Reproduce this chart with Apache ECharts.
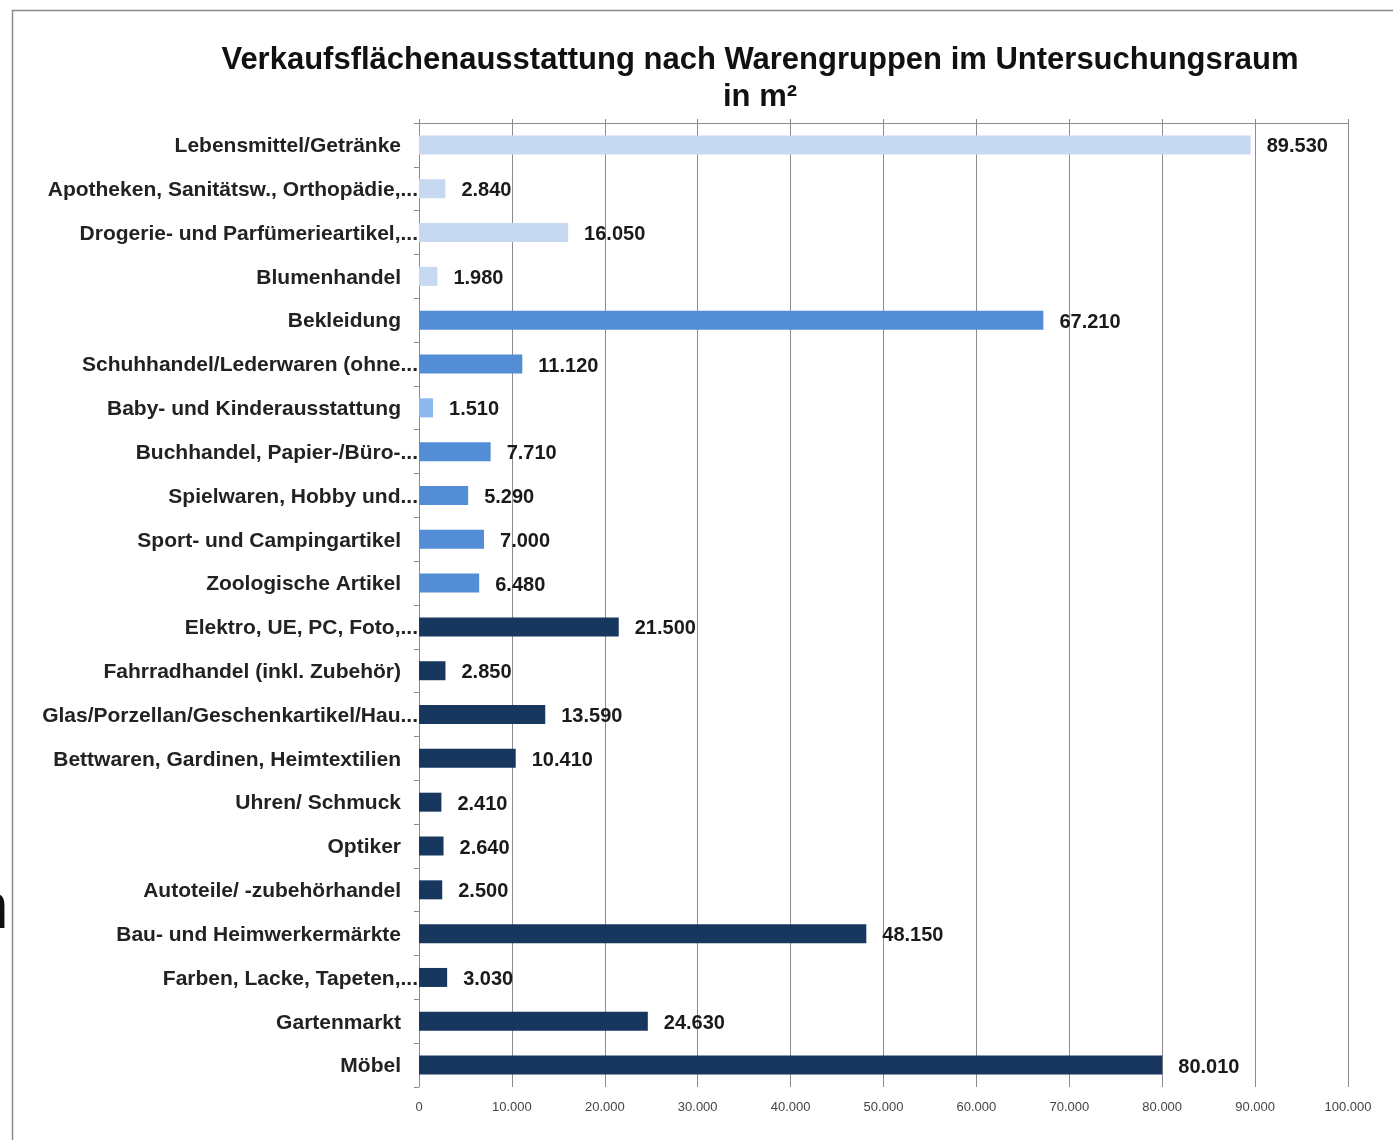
<!DOCTYPE html>
<html>
<head>
<meta charset="utf-8">
<script src="https://cdn.jsdelivr.net/npm/echarts@6/dist/echarts.min.js"></script>
<style>
html,body{margin:0;padding:0;background:#fff;}
#chart{width:1393px;height:1140px;}
</style>
</head>
<body>
<div id="chart"></div>
<script>
var categories = [
  "Lebensmittel/Getränke",
  "Apotheken, Sanitätsw., Orthopädie,...",
  "Drogerie- und Parfümerieartikel,...",
  "Blumenhandel",
  "Bekleidung",
  "Schuhhandel/Lederwaren (ohne...",
  "Baby- und Kinderausstattung",
  "Buchhandel, Papier-/Büro-...",
  "Spielwaren, Hobby und...",
  "Sport- und Campingartikel",
  "Zoologische Artikel",
  "Elektro, UE, PC, Foto,...",
  "Fahrradhandel (inkl. Zubehör)",
  "Glas/Porzellan/Geschenkartikel/Hau...",
  "Bettwaren, Gardinen, Heimtextilien",
  "Uhren/ Schmuck",
  "Optiker",
  "Autoteile/ -zubehörhandel",
  "Bau- und Heimwerkermärkte",
  "Farben, Lacke, Tapeten,...",
  "Gartenmarkt",
  "Möbel"
];
var values = [89530, 2840, 16050, 1980, 67210, 11120, 1510, 7710, 5290, 7000, 6480,
  21500, 2850, 13590, 10410, 2410, 2640, 2500, 48150, 3030, 24630, 80010];
// colour group of each bar
var groups = ["light","light","light","light","mid","mid","pale","mid","mid","mid","mid",
  "dark","dark","dark","dark","dark","dark","dark","dark","dark","dark","dark"];
var groupColors = {light:"#c6d9f1", mid:"#538dd5", pale:"#8db8ee", dark:"#17375e"};
var xTicks = [0, 10000, 20000, 30000, 40000, 50000, 60000, 70000, 80000, 90000, 100000];

function fmt(v){ return String(v).replace(/\B(?=(\d{3})+(?!\d))/g, "."); }

var FONT = 'Liberation Sans, Arial, sans-serif';
var chart = echarts.init(document.getElementById('chart'));
chart.setOption({
  animation:false,
  backgroundColor:'#ffffff',
  title:{
    text:'Verkaufsflächenausstattung nach Warengruppen im Untersuchungsraum\nin m²',
    left:755, top:37, textAlign:'center',
    textStyle:{fontFamily:FONT, fontSize:31, fontWeight:'bold', color:'#111', lineHeight:37}
  },
  graphic:[
    {type:'rect', shape:{x:12.5, y:10.5, width:1400, height:1200}, style:{fill:'none', stroke:'#8a8a8a', lineWidth:1.5}, z:-1},
    {type:'text', left:-27, top:878, style:{text:'n', font:'64px "Liberation Sans", Arial, sans-serif', fill:'#111'}}
  ],
  grid:{left:419, right:45, top:123, bottom:53, containLabel:false},
  xAxis:[{
    type:'value', min:0, max:100000, interval:10000, position:'bottom',
    axisLine:{show:false}, axisTick:{show:false},
    splitLine:{show:true, lineStyle:{color:'#8c8c8c', width:1}},
    axisLabel:{margin:14, fontFamily:FONT, fontSize:13, color:'#444',
      formatter:function(v){ return fmt(v); }}
  },{
    type:'value', min:0, max:100000, interval:10000, position:'top',
    axisLine:{show:true, lineStyle:{color:'#8c8c8c', width:1}},
    axisTick:{show:true, inside:false, length:4, lineStyle:{color:'#8c8c8c'}},
    axisLabel:{show:false}, splitLine:{show:false}
  }],
  yAxis:{
    type:'category', data:categories, inverse:true,
    axisLine:{show:true, lineStyle:{color:'#8c8c8c', width:1}},
    axisTick:{show:true, length:5, lineStyle:{color:'#8c8c8c'}},
    axisLabel:{margin:1, fontFamily:FONT, fontSize:21, fontWeight:'bold', color:'#222',
      formatter:function(v){ return /\.\.\.$/.test(v) ? '{t|' + v + '}' : '{p|' + v + '}'; },
      rich:{
        t:{fontFamily:FONT, fontSize:21, fontWeight:'bold', color:'#222', padding:[3,0,0,0]},
        p:{fontFamily:FONT, fontSize:21, fontWeight:'bold', color:'#222', padding:[3,17,0,0]}
      }
    }
  },
  series:[{
    type:'bar', xAxisIndex:0, barWidth:19,
    data:values.map(function(v,i){ return {value:v, itemStyle:{color:groupColors[groups[i]]}}; }),
    label:{show:true, position:'right', distance:16, offset:[0,2],
      fontFamily:FONT, fontSize:20, fontWeight:'bold', color:'#1a1a1a',
      formatter:function(p){ return fmt(p.value); }}
  }]
});
</script>
</body>
</html>
